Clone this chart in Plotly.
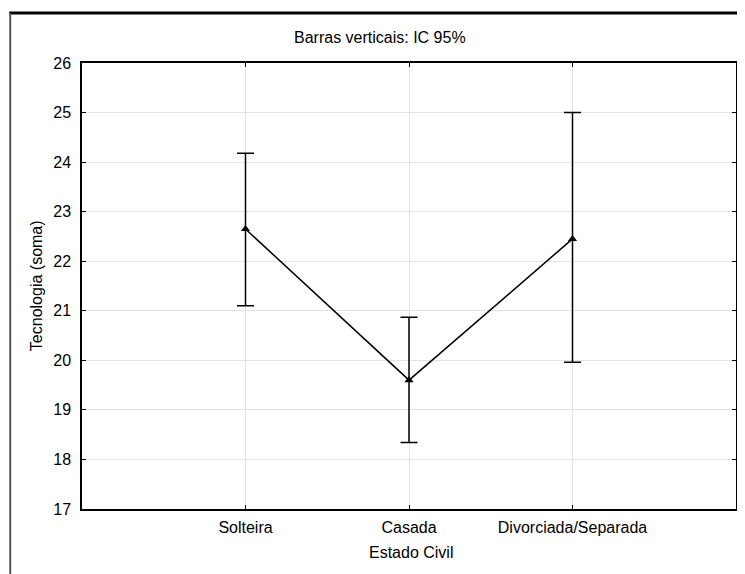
import plotly.graph_objects as go

categories = ["Solteira", "Casada", "Divorciada/Separada"]
means = [22.65, 19.60, 22.45]
upper = [24.18, 20.87, 25.00]
lower = [21.10, 18.34, 19.96]

err_plus = [u - m for u, m in zip(upper, means)]
err_minus = [m - l for m, l in zip(means, lower)]
xpos = [1, 2, 3]

# page body has an 8px margin
OFF = 8
W, H = 737, 566
L, R, T, B = 74, 7, 55, 65
pw = W - L - R
ph = H - T - B

def px(x):
    return (x - OFF - L) / pw

def py(y):
    return (H - B - (y - OFF)) / ph

fig = go.Figure()
fig.add_trace(go.Scatter(
    x=xpos, y=means, mode="lines+markers",
    line=dict(color="black", width=1.5),
    marker=dict(symbol="triangle-up", size=8, color="black"),
    error_y=dict(type="data", symmetric=False, array=err_plus, arrayminus=err_minus,
                 color="black", thickness=1.5, width=8.5),
    showlegend=False,
))

fig.update_layout(
    width=W, height=H,
    margin=dict(l=L, r=R, t=T, b=B, pad=0),
    paper_bgcolor="white", plot_bgcolor="white",
    font=dict(family="Liberation Sans, Arial, sans-serif", color="black", size=16),
    annotations=[
        dict(text="Barras verticais: IC 95%", xref="paper", yref="paper",
             x=px(381), y=py(38), showarrow=False, font=dict(size=16),
             xanchor="center", yanchor="middle"),
        dict(text="Estado Civil", xref="paper", yref="paper",
             x=px(412), y=py(552), showarrow=False, font=dict(size=16),
             xanchor="center", yanchor="middle"),
        dict(text="Tecnologia (soma)", xref="paper", yref="paper",
             x=px(36), y=py(286), showarrow=False, font=dict(size=16), textangle=-90,
             xanchor="center", yanchor="middle"),
    ],
    shapes=[
        dict(type="line", xref="paper", yref="paper", x0=px(9), x1=px(760), y0=py(13), y1=py(13),
             line=dict(color="black", width=3)),
        dict(type="line", xref="paper", yref="paper", x0=px(10), x1=px(10), y0=py(13), y1=py(580),
             line=dict(color="#555555", width=2)),
    ],
)
fig.update_xaxes(
    range=[0, 4], tickmode="array", tickvals=xpos, ticktext=categories,
    showgrid=True, gridcolor="#e3e3e3", gridwidth=1, zeroline=False,
    showline=True, linecolor="black", linewidth=1.5, mirror="ticks",
    ticks="inside", ticklen=4, tickcolor="black",
    tickfont=dict(size=16), ticklabelstandoff=3,
)
fig.update_yaxes(
    range=[17, 26], tickmode="linear", tick0=17, dtick=1,
    showgrid=True, gridcolor="#e3e3e3", gridwidth=1, zeroline=False,
    showline=True, linecolor="black", linewidth=1.5, mirror="ticks",
    ticks="inside", ticklen=4, tickcolor="black",
    tickfont=dict(size=16), ticklabelstandoff=6,
)

fig.write_html("out.html")
